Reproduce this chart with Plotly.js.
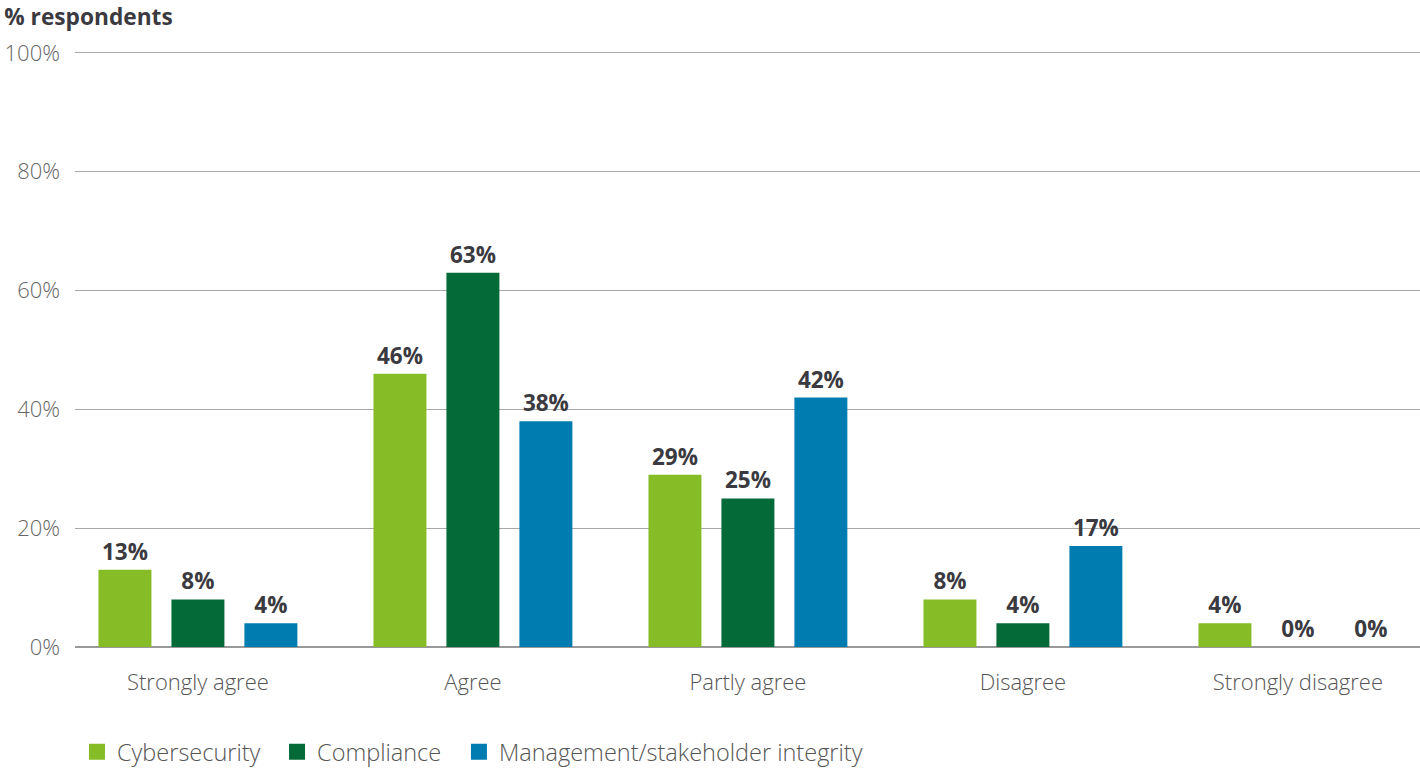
<!DOCTYPE html>
<html>
<head>
<meta charset="utf-8">
<script src="https://cdn.plot.ly/plotly-3.0.1.min.js"></script>
<style>html,body{margin:0;padding:0;background:#fff;}#chart{width:1420px;height:768px;}</style>
</head>
<body>
<div id="chart"></div>
<script>
const categories = ["Strongly agree", "Agree", "Partly agree", "Disagree", "Strongly disagree"];
const cybersecurity = [13, 46, 29, 8, 4];
const compliance = [8, 63, 25, 4, 0];
const management = [4, 38, 42, 17, 0];
const seriesNames = ["Cybersecurity", "Compliance", "Management/stakeholder integrity"];
const seriesColors = ["#86bc25", "#046a38", "#007cb0"];
const yTickVals = [0, 20, 40, 60, 80, 100];
const yTickText = ["0%", "20%", "40%", "60%", "80%", "100%"];

const seriesData = [cybersecurity, compliance, management];
const legendIds = ["legend", "legend2", "legend3"];
const legendX = [0.0542, 0.1951, 0.3232];

const traces = seriesData.map((vals, i) => ({
  type: "bar",
  name: seriesNames[i],
  x: categories,
  y: vals,
  marker: {color: seriesColors[i]},
  text: vals.map(v => v + "%"),
  textposition: "outside",
  cliponaxis: false,
  showlegend: false,
  textfont: {family: "Open Sans", size: 22.5, color: "#3a3a40", weight: 700},
  hoverinfo: "skip"
}));
// legend-only entries (larger square swatches)
seriesNames.forEach((name, i) => {
  traces.push({
    type: "scatter", mode: "markers", name: name,
    x: [null], y: [null],
    marker: {symbol: "square", size: 22, color: seriesColors[i]},
    showlegend: true, legend: legendIds[i], hoverinfo: "skip"
  });
});

const layout = {
  width: 1420, height: 768,
  margin: {l: 75, r: 0, t: 50, b: 121},
  paper_bgcolor: "#fff", plot_bgcolor: "#fff",
  barmode: "group",
  bargap: 0.204,
  bargroupgap: 0.274,
  showlegend: true,
  title: {
    text: "% respondents",
    x: 0.003, xref: "container", xanchor: "left",
    y: 0.978, yref: "container", yanchor: "middle",
    font: {family: "Open Sans", size: 22.7, color: "#3a3a40", weight: 700}
  },
  xaxis: {
    type: "category",
    range: [-0.447, 4.444],
    showgrid: false, zeroline: false, showline: false,
    ticks: "outside", ticklen: 0,
    ticklabelstandoff: 16,
    tickfont: {family: "Open Sans", size: 22, color: "#555", weight: 300}
  },
  yaxis: {
    range: [0, 100.5],
    tickvals: yTickVals, ticktext: yTickText,
    showgrid: true, gridcolor: "#a8a8a8", gridwidth: 1,
    zeroline: true, zerolinecolor: "#999", zerolinewidth: 2,
    showline: false,
    ticklabelstandoff: 14,
    tickfont: {family: "Open Sans", size: 22, color: "#666", weight: 300}
  }
};
legendIds.forEach((id, i) => {
  layout[id] = {
    orientation: "h",
    x: legendX[i], xref: "container", xanchor: "left",
    y: 0.021, yref: "container", yanchor: "middle",
    font: {family: "Open Sans", size: 23.5, color: "#555", weight: 300},
    itemsizing: "trace", itemwidth: 30, bgcolor: "rgba(0,0,0,0)"
  };
});

Plotly.newPlot("chart", traces, layout, {displayModeBar: false, staticPlot: true});
</script>
</body>
</html>
